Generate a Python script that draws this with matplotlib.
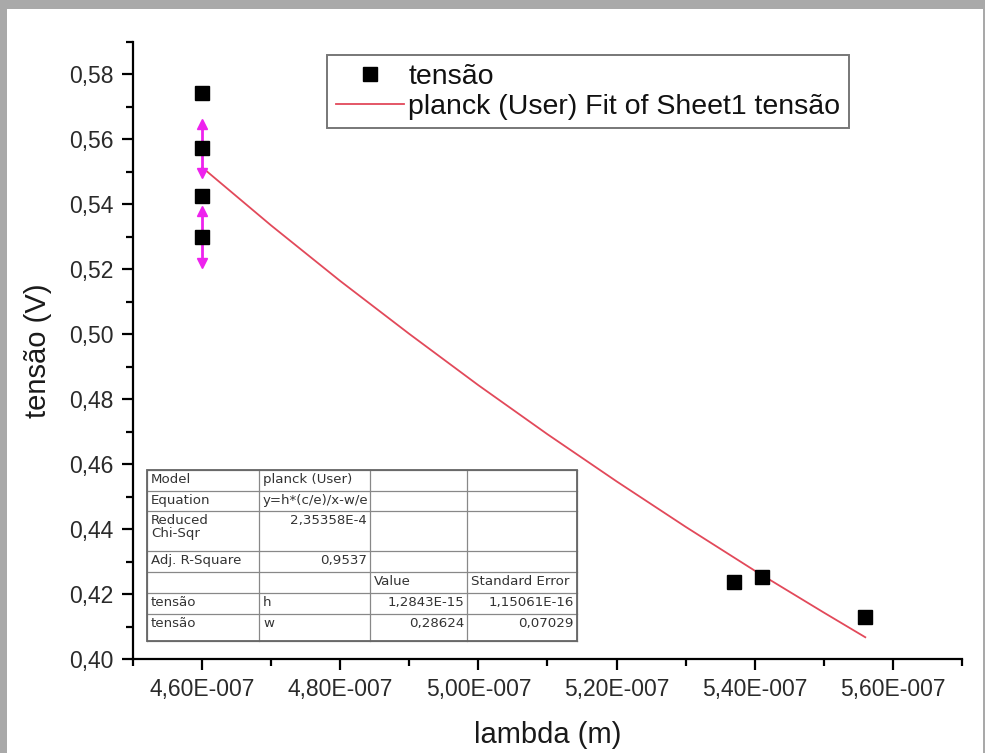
import matplotlib
matplotlib.use("Agg")
import matplotlib.pyplot as plt
from matplotlib.patches import Rectangle
from matplotlib.lines import Line2D
from matplotlib.ticker import MultipleLocator

plt.rcParams['font.family'] = ['Liberation Sans', 'DejaVu Sans']

# ---- data ----
lam = [4.60e-7, 4.60e-7, 4.60e-7, 4.60e-7, 5.37e-7, 5.41e-7, 5.56e-7]
tensao = [0.5742, 0.5573, 0.5425, 0.5299, 0.4237, 0.4252, 0.4129]
tensao_err = [0.0, 0.0075, 0.0, 0.008, 0.0, 0.0, 0.0]

fit_lam = [4.60e-7, 4.70e-7, 4.80e-7, 4.90e-7, 5.00e-7, 5.10e-7,
           5.20e-7, 5.30e-7, 5.40e-7, 5.50e-7, 5.56e-7]
fit_tensao = [0.5514, 0.5335, 0.5164, 0.5001, 0.4843, 0.4692,
              0.4547, 0.4407, 0.4272, 0.4143, 0.4067]

xticks = [4.60e-7, 4.80e-7, 5.00e-7, 5.20e-7, 5.40e-7, 5.60e-7]
xtick_labels = ["4,60E-007", "4,80E-007", "5,00E-007", "5,20E-007", "5,40E-007", "5,60E-007"]
yticks = [0.40, 0.42, 0.44, 0.46, 0.48, 0.50, 0.52, 0.54, 0.56, 0.58]

table_rows = [
    ["Model", "planck (User)", "", ""],
    ["Equation", "y=h*(c/e)/x-w/e", "", ""],
    ["Reduced\nChi-Sqr", "2,35358E-4", "", ""],
    ["Adj. R-Square", "0,9537", "", ""],
    ["", "", "Value", "Standard Error"],
    ["tensão", "h", "1,2843E-15", "1,15061E-16"],
    ["tensão", "w", "0,28624", "0,07029"],
]

# ---- figure ----
W, H = 985, 753
fig = plt.figure(figsize=(W / 100, H / 100), dpi=100, facecolor="#a9a9a9")


def fx(x):
    return x / W


def fy(y):
    return 1 - y / H


fig.patches.append(Rectangle((fx(7), 0), fx(983) - fx(7), fy(9), transform=fig.transFigure,
                             facecolor="white", edgecolor="none", zorder=-5))

ax = fig.add_axes([fx(133), fy(659), fx(962) - fx(133), fy(42) - fy(659)])
ax.set_zorder(1)
ax.set_facecolor("none")
ax.set_xlim(4.50e-7, 5.70e-7)
ax.set_ylim(0.40, 0.59)

for s in ["top", "right"]:
    ax.spines[s].set_visible(False)
for s in ["left", "bottom"]:
    ax.spines[s].set_linewidth(1.6)
    ax.spines[s].set_color("black")

ax.set_xticks(xticks)
ax.set_xticklabels(xtick_labels)
ax.xaxis.set_minor_locator(MultipleLocator(0.1e-7))
ax.set_yticks(yticks)
ax.set_yticklabels([f"{v:.2f}".replace(".", ",") for v in yticks])
ax.yaxis.set_minor_locator(MultipleLocator(0.01))
ax.tick_params(axis="both", which="major", direction="out", length=8, width=1.6,
               labelsize=16.5, labelcolor="#2a2a2a", pad=6)
ax.tick_params(axis="both", which="minor", direction="out", length=5, width=1.6)

ax.set_xlabel("lambda (m)", fontsize=21, color="#1a1a1a", labelpad=14)
ax.set_ylabel("tensão (V)", fontsize=21, color="#1a1a1a", labelpad=12)

# fit line
ax.plot(fit_lam, fit_tensao, color="#e2495a", lw=1.3, zorder=2)

# error bars with arrow heads
for x, y, e in zip(lam, tensao, tensao_err):
    if e > 0:
        ax.plot([x, x], [y - e, y + e], color="#ee22ee", lw=2.0, zorder=3)
        ax.plot([x], [y + e], marker="^", color="#ee22ee", ms=6.5, zorder=3)
        ax.plot([x], [y - e], marker="v", color="#ee22ee", ms=6.5, zorder=3)

ax.plot(lam, tensao, "s", color="black", ms=9.5, zorder=4)

# legend
h_pts = Line2D([], [], marker="s", color="black", ls="none", ms=9.5)
h_fit = Line2D([], [], color="#e2495a", lw=1.3)
leg = fig.legend([h_pts, h_fit], ["tensão", "planck (User) Fit of Sheet1 tensão"],
                 loc="upper left", bbox_to_anchor=(fx(327), fy(55)), borderaxespad=0,
                 fontsize=20.5, frameon=True, fancybox=False, edgecolor="#555555",
                 handlelength=2.4, handletextpad=0.15, borderpad=0.3, labelspacing=0.15)
leg.get_frame().set_linewidth(1.4)
leg.set_zorder(5)
for t in leg.get_texts():
    t.set_color("#111111")

# parameter table
col_x = [147, 259, 370, 467, 577]
row_y = [470, 491, 511, 551, 572, 593, 614, 641]
tcol = "#888888"
for y in row_y:
    fig.add_artist(Line2D([fx(col_x[0]), fx(col_x[-1])], [fy(y), fy(y)],
                          transform=fig.transFigure, color=tcol, lw=0.9, zorder=6))
for x in col_x:
    fig.add_artist(Line2D([fx(x), fx(x)], [fy(row_y[0]), fy(row_y[-1])],
                          transform=fig.transFigure, color=tcol, lw=0.9, zorder=6))
fig.add_artist(Rectangle((fx(col_x[0]), fy(row_y[-1])), fx(col_x[-1]) - fx(col_x[0]),
                         fy(row_y[0]) - fy(row_y[-1]), transform=fig.transFigure,
                         facecolor="none", edgecolor="#666666", lw=1.3, zorder=6))

right_align = {(2, 1), (3, 1), (5, 2), (5, 3), (6, 2), (6, 3)}
for r, row in enumerate(table_rows):
    for c, txt in enumerate(row):
        if not txt:
            continue
        top = row_y[r]
        if (r, c) in right_align:
            x = fx(col_x[c + 1] - 3)
            ha = "right"
        else:
            x = fx(col_x[c] + 4)
            ha = "left"
        fig.text(x, fy(top + 3), txt, ha=ha, va="top", fontsize=9.6, color="#333333",
                 family="DejaVu Sans", linespacing=1.05, zorder=7)

fig.savefig("out.png", dpi=100, facecolor=fig.get_facecolor())
